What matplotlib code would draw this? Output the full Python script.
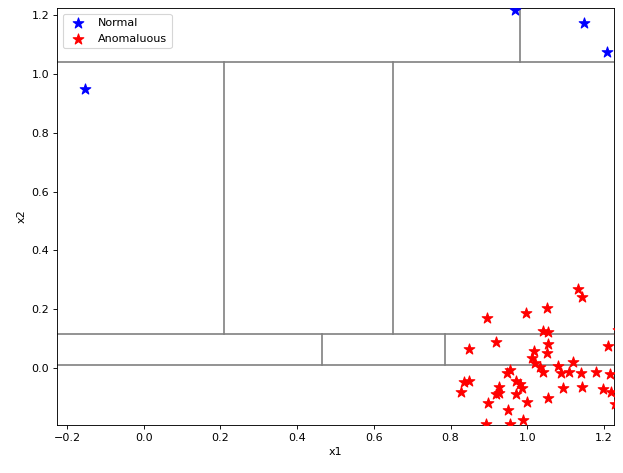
import matplotlib.pyplot as plt

normal_x1 = [-0.152, 0.968, 1.147, 1.207]
normal_x2 = [0.949, 1.218, 1.173, 1.075]

anom_x1 = [0.895, 0.848, 0.919, 0.997, 1.052, 1.131, 1.142, 1.042, 1.055, 1.055,
           1.052, 1.018, 1.013, 1.021, 1.034, 1.042, 1.081, 1.089, 1.118, 1.108,
           1.139, 1.178, 1.215, 1.21, 1.236, 1.197, 1.218, 1.228, 1.142, 1.092,
           1.055, 0.987, 0.971, 0.971, 0.981, 0.948, 0.955, 0.926, 0.926, 0.919,
           0.898, 0.95, 0.848, 0.835, 0.827, 1.0, 0.99, 0.892, 0.955]
anom_x2 = [0.17, 0.065, 0.088, 0.187, 0.204, 0.269, 0.241, 0.126, 0.122, 0.082,
           0.051, 0.058, 0.034, 0.017, 0.003, -0.014, 0.007, -0.017, 0.020, -0.014,
           -0.017, -0.014, -0.020, 0.075, 0.129, -0.071, -0.082, -0.122, -0.065, -0.068,
           -0.102, -0.068, -0.088, -0.044, -0.054, -0.017, -0.007, -0.065, -0.085, -0.088,
           -0.119, -0.143, -0.044, -0.048, -0.082, -0.116, -0.177, -0.19, -0.19]

xmin, xmax = -0.226, 1.226
ymin, ymax = -0.194, 1.224

h_splits = [(1.04, xmin, xmax), (0.115, xmin, xmax), (0.01, xmin, xmax)]
v_splits = [(0.98, 1.04, ymax), (0.21, 0.115, 1.04), (0.65, 0.115, 1.04),
            (0.465, 0.01, 0.115), (0.785, 0.01, 0.115)]

fig, ax = plt.subplots(figsize=(623 / 80, 473 / 80), dpi=80)
fig.subplots_adjust(left=0.0915, right=0.9856, top=0.983, bottom=0.1015)
for y, a, b in h_splits:
    ax.plot([a, b], [y, y], color='gray', lw=1.5)
for x, a, b in v_splits:
    ax.plot([x, x], [a, b], color='gray', lw=1.5)

ax.scatter(normal_x1, normal_x2, marker='*', s=100, color='blue', label='Normal', zorder=3)
ax.scatter(anom_x1, anom_x2, marker='*', s=100, color='red', label='Anomaluous', zorder=3)

ax.set_xlim(xmin, xmax)
ax.set_ylim(ymin, ymax)
ax.set_xlabel('x1')
ax.set_ylabel('x2')
ax.legend(loc='upper left')
fig.savefig('out.png')
